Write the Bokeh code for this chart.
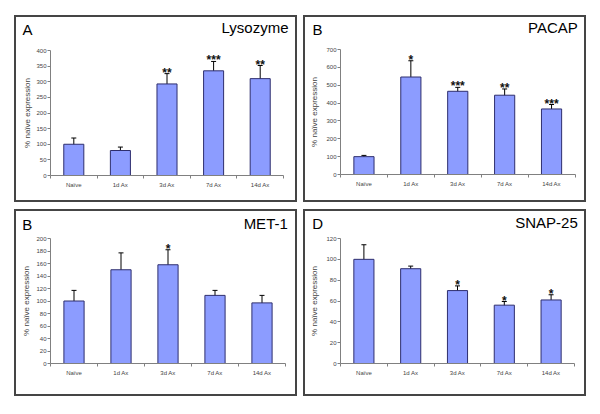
from bokeh.plotting import figure
from bokeh.models import (ColumnDataSource, Whisker, TeeHead, FixedTicker, Label, Range1d,
                          Spacer, LinearAxis)
from bokeh.layouts import row, column
from bokeh.embed import file_html
from bokeh.resources import INLINE
from bokeh.core.properties import value

categories = ["Naïve", "1d Ax", "3d Ax", "7d Ax", "14d Ax"]

lysozyme_mean = [100, 80, 293, 335, 310]
lysozyme_err = [20, 11, 33, 30, 42]
lysozyme_sig = ["", "", "**", "***", "**"]
lysozyme_ticks = [0, 50, 100, 150, 200, 250, 300, 350, 400]

pacap_mean = [100, 546, 466, 444, 367]
pacap_err = [7, 91, 22, 35, 25]
pacap_sig = ["", "*", "***", "**", "***"]
pacap_ticks = [0, 100, 200, 300, 400, 500, 600, 700]

met1_mean = [100, 150, 158, 109, 97]
met1_err = [17, 27, 24, 8, 12]
met1_sig = ["", "", "*", "", ""]
met1_ticks = [0, 20, 40, 60, 80, 100, 120, 140, 160, 180, 200]

snap25_mean = [100, 91, 70, 56, 61]
snap25_err = [14, 2.5, 4.5, 3.5, 5]
snap25_sig = ["", "", "*", "*", "*"]
snap25_ticks = [0, 20, 40, 60, 80, 100, 120]

FONT = "Liberation Sans"
BAR = "#8C9CFF"
AXIS = "#808080"
W, H = 283, 187          # outer size of each panel (incl. 2px css border)
CW, CH = W, H            # canvas size (starts just inside the border)
TITLE_SHIFT = 6          # empirical baseline correction for the panel titles


def panel(letter, name, mean, err, sig, ticks, area, letter_pos, name_pos, label_standoff):
    fl, fr, ft, fb = area   # data area in canvas pixels (left, right, top, bottom)
    n = len(categories)
    xs = list(range(n))
    x_pp = n / (fr - fl)
    x0 = -0.5 - fl * x_pp
    x1 = x0 + CW * x_pp
    ymax = ticks[-1]
    y_pp = (ymax - ticks[0]) / (fb - ft)
    y0 = ticks[0] - (CH - fb) * y_pp
    y1 = y0 + CH * y_pp

    src = ColumnDataSource(dict(
        x=xs, top=mean,
        upper=[m + e for m, e in zip(mean, err)],
        lower=[m - e for m, e in zip(mean, err)],
        sig=sig,
    ))
    p = figure(width=W, height=H, output_backend="svg", toolbar_location=None,
               x_range=Range1d(x0, x1), y_range=Range1d(y0, y1),
               x_axis_location=None, y_axis_location=None,
               min_border_left=0, min_border_right=0,
               min_border_top=0, min_border_bottom=0,
               styles={"border": "2px solid #454545"})
    p.outline_line_color = None
    p.grid.visible = False
    p.background_fill_color = "white"
    p.border_fill_color = "white"

    p.vbar(x="x", top="top", width=0.43, bottom=0, source=src,
           fill_color=BAR, line_color="#2E2E6E", line_width=1)
    wh = Whisker(base="x", upper="upper", lower="lower", source=src,
                 line_color="black", line_width=1,
                 upper_head=TeeHead(size=5, line_color="black", line_width=1),
                 lower_head=TeeHead(size=5, line_color="black", line_width=1))
    p.add_layout(wh)
    p.text(x="x", y="upper", text="sig", source=src, y_offset=-1,
           text_font=value(FONT), text_font_size=value("12px"),
           text_font_style="bold", text_align="center",
           text_baseline="alphabetic", text_color="#111111")

    ya = LinearAxis(fixed_location=-0.5, bounds=(ticks[0], ymax),
                    ticker=FixedTicker(ticks=ticks))
    ya.axis_label = "% naïve expression"
    ya.axis_label_text_font = FONT
    ya.axis_label_text_font_size = "8px"
    ya.axis_label_text_font_style = "normal"
    ya.axis_label_standoff = label_standoff
    ya.major_label_text_font = FONT
    ya.major_label_text_font_size = "6px"
    ya.major_label_standoff = 1
    ya.major_tick_out = 3
    ya.major_tick_in = 0
    ya.minor_tick_line_color = None
    ya.axis_line_color = AXIS
    ya.major_tick_line_color = AXIS
    p.add_layout(ya, "left")

    xa = LinearAxis(fixed_location=0, bounds=(-0.5, n - 0.5),
                    ticker=FixedTicker(ticks=xs, minor_ticks=[i - 0.5 for i in range(n + 1)]))
    xa.major_label_overrides = {i: c for i, c in enumerate(categories)}
    xa.major_label_text_font = FONT
    xa.major_label_text_font_size = "6px"
    xa.major_label_standoff = 3
    xa.major_tick_line_color = None
    xa.major_tick_out = 0
    xa.major_tick_in = 0
    xa.minor_tick_out = 3
    xa.minor_tick_in = 0
    xa.minor_tick_line_color = AXIS
    xa.axis_line_color = AXIS
    p.add_layout(xa, "below")

    p.add_layout(Label(x=letter_pos[0], y=CH - letter_pos[1] + TITLE_SHIFT,
                       x_units="screen", y_units="screen",
                       text=letter, text_font=FONT, text_font_size="15px",
                       text_baseline="alphabetic", text_color="black"))
    p.add_layout(Label(x=name_pos[0], y=CH - name_pos[1] + TITLE_SHIFT,
                       x_units="screen", y_units="screen",
                       text=name, text_font=FONT, text_font_size="15px",
                       text_baseline="alphabetic", text_align="right", text_color="black"))
    return p


pA = panel("A", "Lysozyme", lysozyme_mean, lysozyme_err, lysozyme_sig, lysozyme_ticks,
           (34, 267, 33, 158), (6, 18), (272, 16.3), 1)
pB = panel("B", "PACAP", pacap_mean, pacap_err, pacap_sig, pacap_ticks,
           (35, 269.5, 32, 157), (7, 18), (272.3, 16.3), 4)
pC = panel("B", "MET-1", met1_mean, met1_err, met1_sig, met1_ticks,
           (34, 269, 27, 152), (5.7, 19.3), (271.3, 17.7), 2)
pD = panel("D", "SNAP-25", snap25_mean, snap25_err, snap25_sig, snap25_ticks,
           (35, 269, 27, 152), (6.7, 17.7), (272.3, 16.7), 4)

layout = column(
    Spacer(height=15),
    row(Spacer(width=14), pA, Spacer(width=6), pB),
    Spacer(height=7),
    row(Spacer(width=14), pC, Spacer(width=6), pD),
)

open("out.html", "w").write(file_html(layout, INLINE))
